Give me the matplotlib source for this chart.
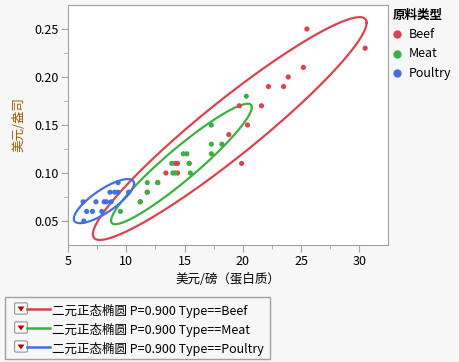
import numpy as np
import matplotlib.pyplot as plt
from matplotlib.lines import Line2D
from matplotlib.patches import FancyBboxPatch, Rectangle, Polygon

plt.rcParams['font.family'] = ['Noto Sans CJK SC', 'DejaVu Sans']

# 数据
types = ['Beef', 'Meat', 'Poultry']
colors = ['#d8434f', '#3cb043', '#4370e0']

beef_x = [25.5, 30.5, 25.2, 23.9, 22.2, 23.5, 19.7, 21.6, 20.4, 18.8,
          19.9, 14.2, 14.4, 15.4, 13.4, 14.4, 12.7, 11.8, 11.2]
beef_y = [0.25, 0.23, 0.21, 0.20, 0.19, 0.19, 0.17, 0.17, 0.15, 0.14,
          0.11, 0.11, 0.11, 0.11, 0.10, 0.10, 0.09, 0.08, 0.07]

meat_x = [20.3, 17.3, 17.3, 18.2, 17.3, 14.9, 15.2, 13.9, 15.4, 14.0,
          14.2, 15.5, 11.8, 12.7, 11.8, 11.2, 9.5]
meat_y = [0.18, 0.15, 0.13, 0.13, 0.12, 0.12, 0.12, 0.11, 0.11, 0.10,
          0.10, 0.10, 0.09, 0.09, 0.08, 0.07, 0.06]

poultry_x = [9.3, 8.6, 9.0, 9.3, 10.2, 6.3, 7.4, 8.1, 8.3, 8.7,
             6.6, 7.1, 7.9, 6.35]
poultry_y = [0.09, 0.08, 0.08, 0.08, 0.08, 0.07, 0.07, 0.07, 0.07, 0.07,
             0.06, 0.06, 0.06, 0.05]

xs = [beef_x, meat_x, poultry_x]
ys = [beef_y, meat_y, poultry_y]
p_level = 0.9

fig = plt.figure(figsize=(4.6, 3.62), dpi=100, facecolor='#f7f7f7')
W, H = 460, 362
ax = fig.add_axes([68 / W, 1 - 245 / H, 320 / W, 240 / H])
ax.set_facecolor('white')

# 二元正态椭圆
r = np.sqrt(-2 * np.log(1 - p_level))
t = np.linspace(0, 2 * np.pi, 200)
for x, y, c in zip(xs, ys, colors):
    x = np.array(x); y = np.array(y)
    mu = np.array([x.mean(), y.mean()])
    cov = np.cov(x, y)
    L = np.linalg.cholesky(cov)
    pts = mu[:, None] + r * L @ np.vstack([np.cos(t), np.sin(t)])
    ax.plot(pts[0], pts[1], color=c, lw=1.6, zorder=2)

for x, y, c in zip(xs, ys, colors):
    ax.scatter(x, y, s=14, color=c, edgecolors='none', zorder=3)

ax.set_xlim(5, 32.46)
ax.set_ylim(0.025, 0.275)
ax.set_xticks([5, 10, 15, 20, 25, 30])
ax.set_yticks([0.05, 0.10, 0.15, 0.20, 0.25])
ax.set_yticklabels(['0.05', '0.10', '0.15', '0.20', '0.25'])
ax.set_xticks(np.arange(7.5, 32.5, 5), minor=True)
ax.set_yticks(np.arange(0.075, 0.275, 0.05), minor=True)
ax.tick_params(which='major', length=5, color='#a0a0a0', labelsize=9, pad=2)
ax.tick_params(which='minor', length=3, color='#a0a0a0')
for s in ax.spines.values():
    s.set_color('#a0a0a0')

ax.set_xlabel('美元/磅（蛋白质）', fontsize=9, labelpad=4)
ax.set_ylabel('美元/盎司', fontsize=9, color='#9c5a00', labelpad=6)

# 右侧图例
fig.text(393 / W, 1 - 15 / H, '原料类型', fontsize=9, fontweight='bold',
         va='center', ha='left')
for i, (lab, c) in enumerate(zip(types, colors)):
    yy = 1 - (34 + i * 19.5) / H
    fig.add_artist(Line2D([397 / W], [yy], marker='o', ms=6, color=c,
                          mec='none', transform=fig.transFigure))
    fig.text(409 / W, yy, lab, fontsize=9, va='center', ha='left')

# 底部图例
fig.add_artist(Rectangle((5 / W, 1 - 359 / H), 265 / W, 62 / H,
                         transform=fig.transFigure, fill=False,
                         ec='#a0a0a0', lw=1))
for i, (lab, c) in enumerate(zip(types, colors)):
    yc = 309 + i * 19
    fig.add_artist(FancyBboxPatch((16 / W, 1 - (yc + 4) / H), 10 / W, 9 / H,
                                  boxstyle='round,pad=0.003',
                                  transform=fig.transFigure,
                                  fc='white', ec='#909090', lw=0.8))
    fig.add_artist(Polygon([[17.5 / W, 1 - (yc - 2.5) / H],
                            [24.5 / W, 1 - (yc - 2.5) / H],
                            [21 / W, 1 - (yc + 2.5) / H]],
                           closed=True, transform=fig.transFigure,
                           fc='#c00000', ec='none'))
    fig.add_artist(Line2D([27 / W, 50 / W], [1 - yc / H, 1 - yc / H],
                          color=c, lw=1.8, transform=fig.transFigure))
    fig.text(52 / W, 1 - (yc + 2) / H,
             '二元正态椭圆 P=0.900 Type==' + lab,
             fontsize=9, va='center', ha='left')

fig.savefig('out.png', dpi=100, facecolor=fig.get_facecolor())
